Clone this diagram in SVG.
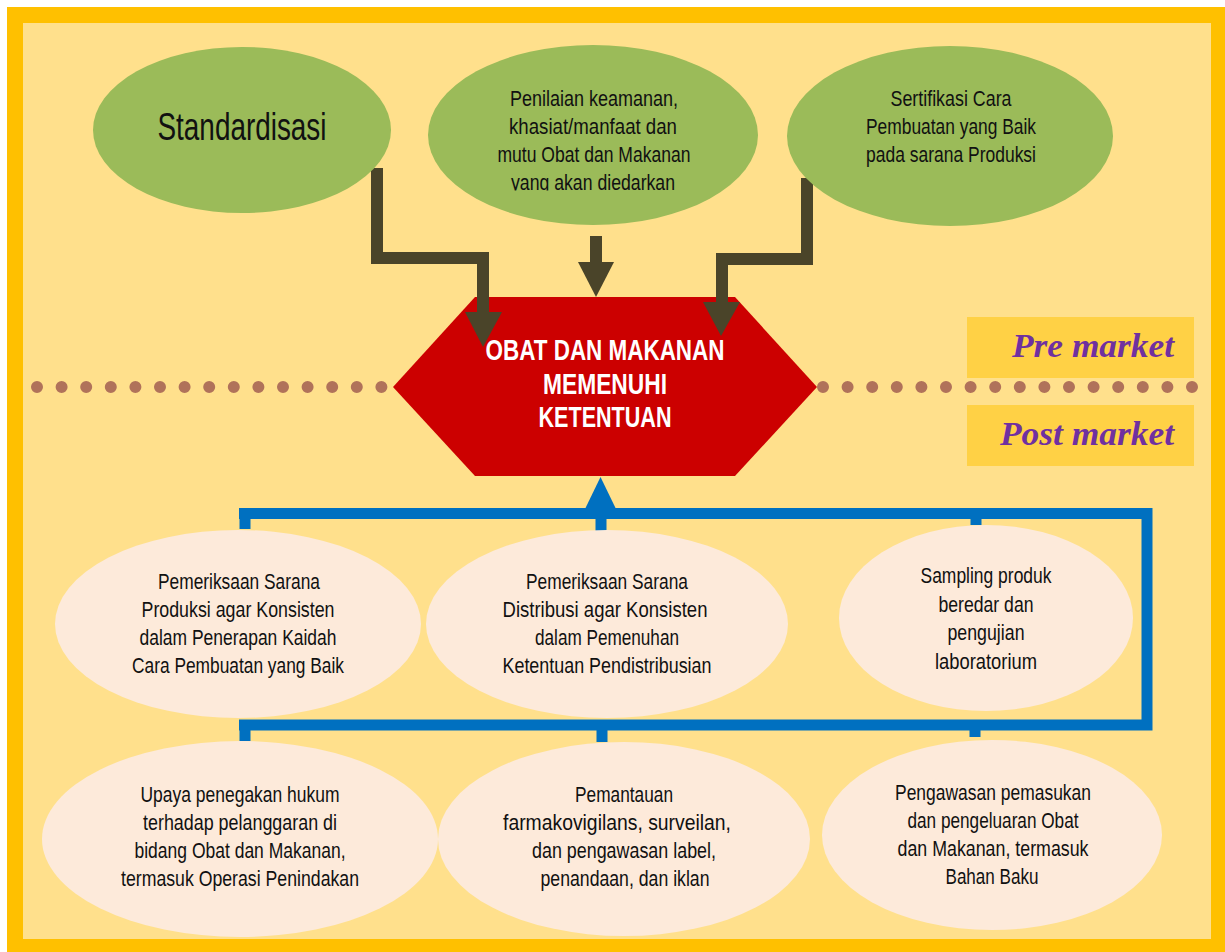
<svg xmlns="http://www.w3.org/2000/svg" width="1225" height="952" viewBox="0 0 1225 952">
<style>
  .green{fill:#9BBB59}
  .peach{fill:#FDEADA}
  .t{font-family:"Liberation Sans",Arial,sans-serif;font-size:22.5px;fill:#111;text-anchor:middle}
  .h{font-family:"Liberation Sans",Arial,sans-serif;font-size:29px;font-weight:bold;fill:#fff;text-anchor:middle}
  .pm{font-family:"Liberation Serif","Times New Roman",serif;font-size:33px;font-weight:bold;font-style:italic;fill:#7030A0;text-anchor:end}
  .dark{fill:none;stroke:#4A4429;stroke-width:12}
  .darkhead{fill:#4A4429}
  .blue{fill:none;stroke:#0070C0;stroke-width:11}
  .dots{fill:none;stroke:#B0725A;stroke-width:12;stroke-linecap:round;stroke-dasharray:0 24.6}
</style>
<defs>
  <clipPath id="clipLast"><rect x="400" y="160" width="400" height="30.5"/></clipPath>
</defs>
<rect x="0" y="0" width="1225" height="952" fill="#fff"/>
<rect x="7" y="7" width="1218" height="945" fill="#FFC000"/>
<rect x="23" y="23" width="1188" height="916" fill="#FFE08C"/>

<g id="pre-market">
  <rect x="967" y="317" width="227" height="61" fill="#FFD145"/>
  <text class="pm" x="1174" y="357" textLength="162" lengthAdjust="spacingAndGlyphs">Pre market</text>
</g>
<g id="post-market">
  <rect x="967" y="405" width="227" height="61" fill="#FFD145"/>
  <text class="pm" x="1174" y="445" textLength="174" lengthAdjust="spacingAndGlyphs">Post market</text>
</g>

<g id="center">
  <polygon points="393,387 475,297 735,297 817,387 735,476 475,476" fill="#CC0000"/>
  <text class="h" x="605" y="360" textLength="239" lengthAdjust="spacingAndGlyphs">OBAT DAN MAKANAN</text>
  <text class="h" x="605" y="394" textLength="124" lengthAdjust="spacingAndGlyphs">MEMENUHI</text>
  <text class="h" x="605" y="427" textLength="133" lengthAdjust="spacingAndGlyphs">KETENTUAN</text>
</g>

<g id="connectors">
  <line class="dots" x1="37" y1="387" x2="382" y2="387"/>
  <line class="dots" x1="823" y1="387" x2="1193" y2="387"/>
  <path class="dark" d="M377,168 V258 H483 V313"/>
  <polygon class="darkhead" points="465,312 502,312 483,347"/>
  <path class="dark" d="M596,236 V263"/>
  <polygon class="darkhead" points="578,262 614,262 596,297"/>
  <path class="dark" d="M807,178 V259 H722 V303"/>
  <polygon class="darkhead" points="703,302 740,302 721,336"/>
  <path class="blue" d="M239,513.5 H1147 V725 H239"/>
  <path class="blue" d="M245,513 V529 M601,513 V531 M976,513 V525 M245,725 V741 M602,725 V742 M975,725 V737"/>
  <polygon fill="#0070C0" points="585,509 616,509 600.5,477"/>
</g>

<g id="standardisasi">
  <ellipse class="green" cx="242" cy="130" rx="149" ry="83"/>
  <text class="t" x="242" y="140" style="font-size:38px" textLength="169" lengthAdjust="spacingAndGlyphs">Standardisasi</text>
</g>
<g id="penilaian">
  <ellipse class="green" cx="593" cy="135" rx="165" ry="90"/>
  <text class="t" x="594" y="106" textLength="168" lengthAdjust="spacingAndGlyphs">Penilaian keamanan,</text>
  <text class="t" x="593" y="134" textLength="168" lengthAdjust="spacingAndGlyphs">khasiat/manfaat dan</text>
  <text class="t" x="594" y="162" textLength="193" lengthAdjust="spacingAndGlyphs">mutu Obat dan Makanan</text>
  <text class="t" x="593" y="190" clip-path="url(#clipLast)" textLength="164" lengthAdjust="spacingAndGlyphs">yang akan diedarkan</text>
</g>
<g id="sertifikasi">
  <ellipse class="green" cx="950" cy="136" rx="163" ry="90"/>
  <text class="t" x="951" y="106" textLength="121" lengthAdjust="spacingAndGlyphs">Sertifikasi Cara</text>
  <text class="t" x="951" y="134" textLength="170" lengthAdjust="spacingAndGlyphs">Pembuatan yang Baik</text>
  <text class="t" x="951" y="162" textLength="170" lengthAdjust="spacingAndGlyphs">pada sarana Produksi</text>
</g>

<g id="pemeriksaan-produksi">
  <ellipse class="peach" cx="238" cy="624" rx="183" ry="94"/>
  <text class="t" x="239" y="589" textLength="162" lengthAdjust="spacingAndGlyphs">Pemeriksaan Sarana</text>
  <text class="t" x="238" y="617" textLength="193" lengthAdjust="spacingAndGlyphs">Produksi agar Konsisten</text>
  <text class="t" x="238" y="645" textLength="197" lengthAdjust="spacingAndGlyphs">dalam Penerapan Kaidah</text>
  <text class="t" x="238" y="673" textLength="212" lengthAdjust="spacingAndGlyphs">Cara Pembuatan yang Baik</text>
</g>
<g id="pemeriksaan-distribusi">
  <ellipse class="peach" cx="607" cy="624" rx="181" ry="94"/>
  <text class="t" x="607" y="589" textLength="162" lengthAdjust="spacingAndGlyphs">Pemeriksaan Sarana</text>
  <text class="t" x="605" y="617" textLength="205" lengthAdjust="spacingAndGlyphs">Distribusi agar Konsisten</text>
  <text class="t" x="607" y="645" textLength="144" lengthAdjust="spacingAndGlyphs">dalam Pemenuhan</text>
  <text class="t" x="607" y="673" textLength="209" lengthAdjust="spacingAndGlyphs">Ketentuan Pendistribusian</text>
</g>
<g id="sampling">
  <ellipse class="peach" cx="986" cy="618" rx="147" ry="93"/>
  <text class="t" x="986" y="583" textLength="131" lengthAdjust="spacingAndGlyphs">Sampling produk</text>
  <text class="t" x="986" y="612" textLength="95" lengthAdjust="spacingAndGlyphs">beredar dan</text>
  <text class="t" x="986" y="640" textLength="77" lengthAdjust="spacingAndGlyphs">pengujian</text>
  <text class="t" x="986" y="669" textLength="102" lengthAdjust="spacingAndGlyphs">laboratorium</text>
</g>

<g id="penegakan-hukum">
  <ellipse class="peach" cx="240" cy="839" rx="198" ry="98"/>
  <text class="t" x="240" y="802" textLength="199" lengthAdjust="spacingAndGlyphs">Upaya penegakan hukum</text>
  <text class="t" x="240" y="830" textLength="194" lengthAdjust="spacingAndGlyphs">terhadap pelanggaran di</text>
  <text class="t" x="240" y="858" textLength="211" lengthAdjust="spacingAndGlyphs">bidang Obat dan Makanan,</text>
  <text class="t" x="240" y="886" textLength="238" lengthAdjust="spacingAndGlyphs">termasuk Operasi Penindakan</text>
</g>
<g id="pemantauan">
  <ellipse class="peach" cx="624" cy="839" rx="186" ry="97"/>
  <text class="t" x="624" y="802" textLength="98" lengthAdjust="spacingAndGlyphs">Pemantauan</text>
  <text class="t" x="617" y="830" textLength="228" lengthAdjust="spacingAndGlyphs">farmakovigilans, surveilan,</text>
  <text class="t" x="624" y="858" textLength="184" lengthAdjust="spacingAndGlyphs">dan pengawasan label,</text>
  <text class="t" x="625" y="886" textLength="169" lengthAdjust="spacingAndGlyphs">penandaan, dan iklan</text>
</g>
<g id="pengawasan">
  <ellipse class="peach" cx="992" cy="835" rx="170" ry="95"/>
  <text class="t" x="993" y="800" textLength="196" lengthAdjust="spacingAndGlyphs">Pengawasan pemasukan</text>
  <text class="t" x="993" y="828" textLength="171" lengthAdjust="spacingAndGlyphs">dan pengeluaran Obat</text>
  <text class="t" x="993" y="856" textLength="191" lengthAdjust="spacingAndGlyphs">dan Makanan, termasuk</text>
  <text class="t" x="992" y="884" textLength="93" lengthAdjust="spacingAndGlyphs">Bahan Baku</text>
</g>
</svg>
